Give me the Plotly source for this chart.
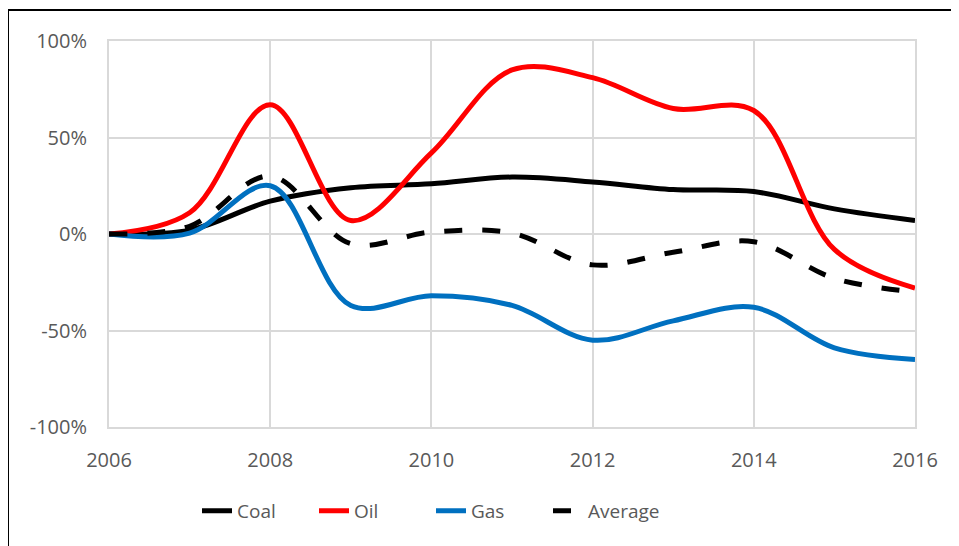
import plotly.graph_objects as go

years = [2006, 2007, 2008, 2009, 2010, 2011, 2012, 2013, 2014, 2015, 2016]
coal = [0, 2, 17, 24, 26, 29.5, 27, 23, 22, 13, 7]
oil = [0, 11, 67, 7, 42, 85, 81, 65, 64, -8, -28]
gas = [0, 0.5, 25, -37, -32, -37, -55, -45, -38, -59, -65]
average = [0, 4, 30, -5, 1, 0.5, -16, -9.5, -4, -23, -30]

series = [
    ("Coal", coal, "#000000", "solid"),
    ("Oil", oil, "#FF0000", "solid"),
    ("Gas", gas, "#0070C0", "solid"),
    ("Average", average, "#000000", "18px,20px"),
]

# page has an 8px body margin, so the figure is sized to fit the window
W, H = 951, 538
ml, mr, mt, mb = 101, 44, 33, 119

fig = go.Figure()
for name, vals, color, dash in series:
    fig.add_trace(go.Scatter(
        x=years, y=vals, name=name, mode="lines",
        line=dict(color=color, width=5, dash=dash, shape="spline", smoothing=1.0),
    ))

font = dict(family="Open Sans", size=20, color="#595959")
grid = "#D9D9D9"

pw = W - ml - mr
ph = H - mt - mb

fig.update_layout(
    width=W, height=H,
    margin=dict(l=ml, r=mr, t=mt, b=mb),
    plot_bgcolor="white", paper_bgcolor="white",
    showlegend=True,
    legend=dict(orientation="h", x=(197 - 109) / pw, xanchor="left", y=-0.168, yanchor="top",
                font=dict(family="Open Sans", size=19, color="#595959"),
                entrywidth=72, entrywidthmode="pixels", tracegroupgap=0),
    xaxis=dict(range=[2006, 2016], tickvals=[2006, 2008, 2010, 2012, 2014, 2016],
               ticktext=[str(v) for v in [2006, 2008, 2010, 2012, 2014, 2016]],
               showgrid=True, gridcolor=grid, gridwidth=2, zeroline=False,
               showline=True, linecolor=grid, linewidth=2, mirror=True,
               ticks="", tickfont=font, ticklabelstandoff=14),
    yaxis=dict(range=[-100, 100], tickvals=[-100, -50, 0, 50, 100],
               ticktext=["-100%", "-50%", "0%", "50%", "100%"],
               showgrid=True, gridcolor=grid, gridwidth=2, zeroline=False,
               showline=True, linecolor=grid, linewidth=2, mirror=True,
               ticks="", tickfont=font, ticklabelstandoff=16),
    shapes=[dict(type="rect", xref="paper", yref="paper",
                 x0=(0 - ml) / pw, x1=(W + 5 - ml) / pw,
                 y0=(H - mb - (H + 5)) / ph, y1=(H - mb - 2) / ph,
                 line=dict(color="black", width=2), fillcolor="rgba(0,0,0,0)",
                 layer="below")],
)

fig.write_html("out.html")
